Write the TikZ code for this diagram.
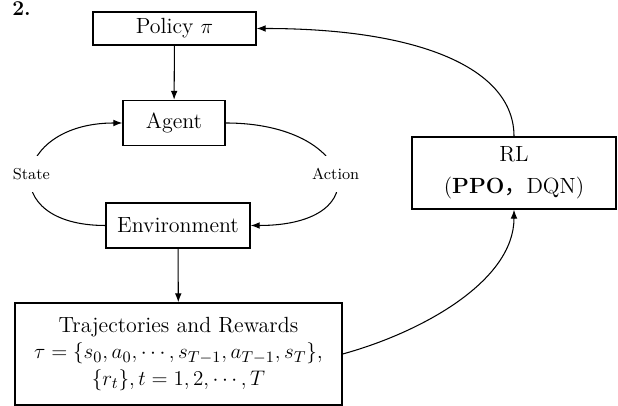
\documentclass[tikz,border=0pt]{standalone}
\usepackage{fontspec}
\newfontfamily\cjkfont{Noto Sans CJK SC}
\usetikzlibrary{arrows.meta}

\begin{document}
\begin{tikzpicture}[
    stagebox/.style={draw, line width=0.8pt, align=center, inner sep=0pt,
                     font=\fontsize{12.5}{15}\selectfont},
    flow/.style={-{Latex[length=1.8mm]}, line width=0.6pt},
    looplabel/.style={font=\fontsize{9}{11}\selectfont, fill=white, inner xsep=1pt, inner ysep=7pt}
  ]
    % page 618x406 px at 0.02cm per px
    \useasboundingbox (0,0) rectangle (12.36,8.12);

    \node[anchor=north west, inner sep=0pt, font=\bfseries\large] (fignum) at (0.24,8.10) {2.};

    \node[stagebox, minimum width=3.26cm, minimum height=0.66cm] (policy) at (3.49,7.55) {Policy $\pi$};
    \node[stagebox, minimum width=2.04cm, minimum height=0.90cm] (agent)  at (3.48,5.66) {Agent};
    \node[stagebox, minimum width=2.88cm, minimum height=0.90cm] (env)    at (3.56,3.61) {Environment};
    \node[stagebox, minimum width=6.54cm, minimum height=2.04cm] (traj)   at (3.57,1.04)
      {Trajectories and Rewards\\
       $\tau=\{s_0,a_0,\cdots,s_{T-1},a_{T-1},s_T\}$,\\
       $\{r_t\},t=1,2,\cdots,T$};
    \node[stagebox, minimum width=4.08cm, minimum height=1.44cm] (rl)     at (10.28,4.66)
      {RL\\[3pt](\textbf{PPO}{\cjkfont ，}DQN)};

    \draw[flow] (policy) -- (agent);
    \draw[flow] (env) -- (traj);
    \draw[flow] (env.west) .. controls +(-2.2,0) and +(-2.2,0) .. node[looplabel] (state) {State} (agent.west);
    \draw[flow] (agent.east) .. controls +(2.6,0) and +(2.6,0) .. node[looplabel] (action) {Action} (env.east);
    \draw[flow] (traj.east) .. controls +(1.6,0.44) and +(0,-1.42) .. (rl.south);
    \draw[flow] (rl.north) .. controls +(0,1.34) and +(3.3,0) .. (policy.east);
  \end{tikzpicture}
\end{document}
